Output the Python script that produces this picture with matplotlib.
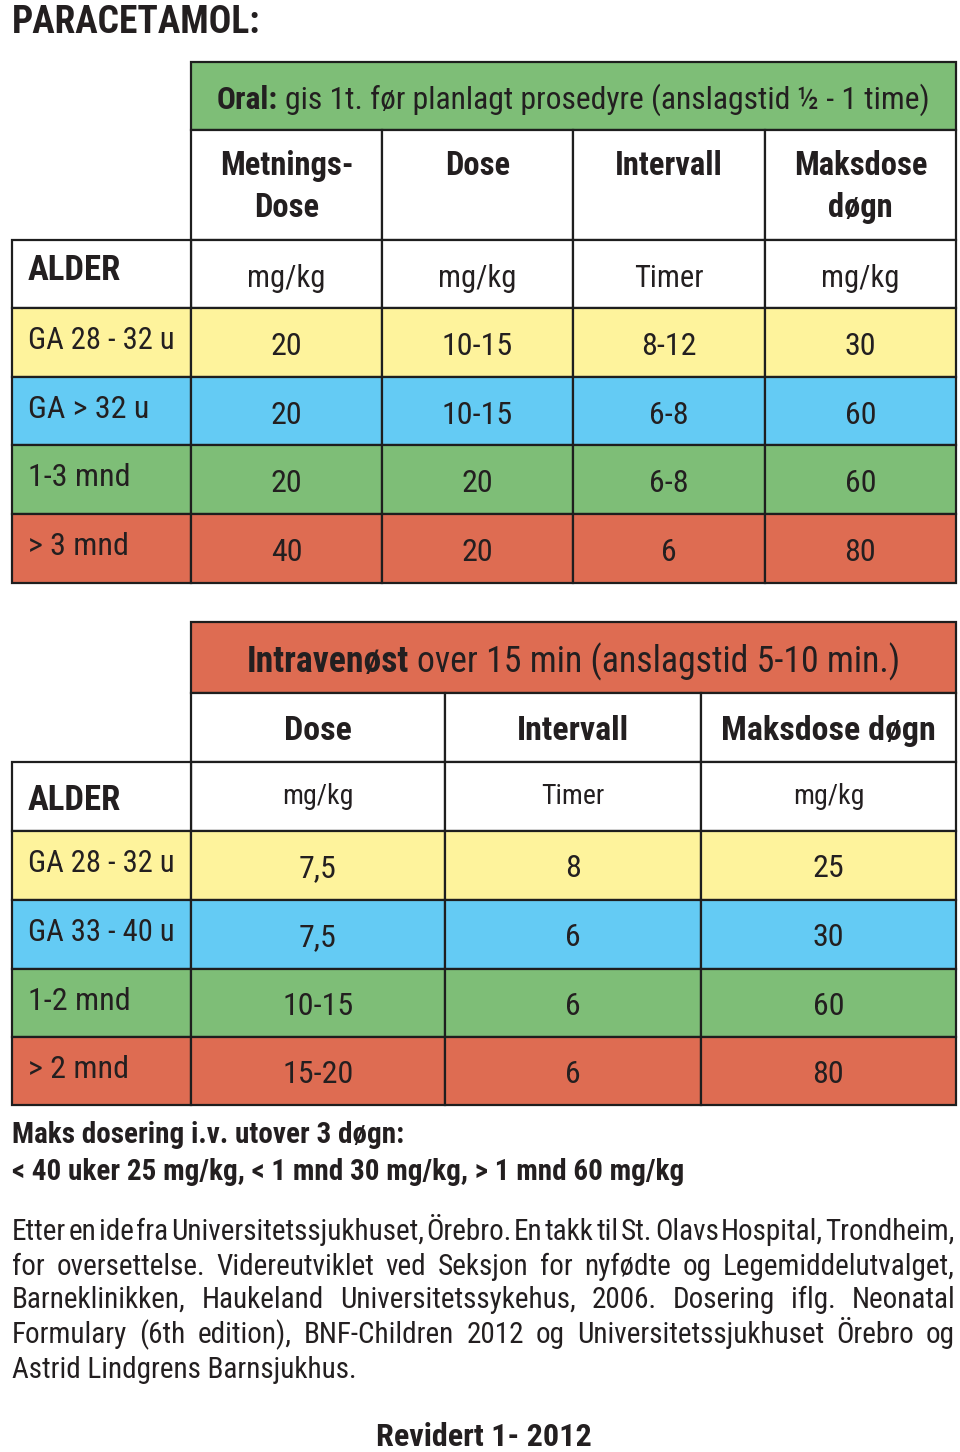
import matplotlib
matplotlib.use("Agg")
import matplotlib.pyplot as plt
from matplotlib.patches import Rectangle
from matplotlib import font_manager as fm

# pick a condensed sans family that has separate regular and bold faces
_cands = ['Liberation Sans Narrow', 'Arial Narrow', 'Nimbus Sans Narrow', 'Archivo Narrow',
          'Roboto Condensed', 'PT Sans Narrow', 'Fira Sans Condensed',
          'IBM Plex Sans Condensed', 'Asap Condensed', 'Encode Sans Condensed',
          'Sofia Sans Condensed', 'Barlow Semi Condensed', 'Open Sans Condensed']
_faces = {}
for f in fm.fontManager.ttflist:
    if 'italic' in f.fname.lower() or f.style != 'normal':
        continue
    w = f.weight if isinstance(f.weight, int) else (700 if 'bold' in str(f.weight) else 400)
    _faces.setdefault(f.name, set()).add(w)
CHOSEN = 'Liberation Sans'
for c in _cands:
    ws = _faces.get(c, set())
    if any(w <= 450 for w in ws) and any(w >= 650 for w in ws):
        CHOSEN = c
        break
plt.rcParams['font.family'] = [CHOSEN, 'Liberation Sans', 'DejaVu Sans']

# ---------------- data ----------------
title = "PARACETAMOL:"
oral_title_bold = "Oral:"
oral_title_rest = "gis 1t. før planlagt prosedyre (anslagstid ½ - 1 time)"
oral_headers = [["Metnings-", "Dose"], ["Dose"], ["Intervall"], ["Maksdose", "døgn"]]
oral_units = ["mg/kg", "mg/kg", "Timer", "mg/kg"]
oral_ages = ["GA 28 - 32 u", "GA > 32 u", "1-3 mnd", "> 3 mnd"]
oral_loading = ["20", "20", "20", "40"]
oral_dose = ["10-15", "10-15", "20", "20"]
oral_interval = ["8-12", "6-8", "6-8", "6"]
oral_max = ["30", "60", "60", "80"]

iv_title_bold = "Intravenøst"
iv_title_rest = "over 15 min (anslagstid 5-10 min.)"
iv_headers = ["Dose", "Intervall", "Maksdose døgn"]
iv_units = ["mg/kg", "Timer", "mg/kg"]
iv_ages = ["GA 28 - 32 u", "GA 33 - 40 u", "1-2 mnd", "> 2 mnd"]
iv_dose = ["7,5", "7,5", "10-15", "15-20"]
iv_interval = ["8", "6", "6", "6"]
iv_max = ["25", "30", "60", "80"]

age_label = "ALDER"
note_lines = ["Maks dosering i.v. utover 3 døgn:",
              "< 40 uker 25 mg/kg, < 1 mnd 30 mg/kg, > 1 mnd 60 mg/kg"]
paragraph_lines = [
    "Etter en ide fra Universitetssjukhuset, Örebro. En takk til St. Olavs Hospital, Trondheim,",
    "for oversettelse. Videreutviklet ved Seksjon for nyfødte og Legemiddelutvalget,",
    "Barneklinikken, Haukeland Universitetssykehus, 2006. Dosering iflg. Neonatal",
    "Formulary (6th edition), BNF-Children 2012 og Universitetssjukhuset Örebro og",
    "Astrid Lindgrens Barnsjukhus.",
]
footer = "Revidert 1- 2012"

# ---------------- style ----------------
YELLOW = "#FEF39C"
BLUE = "#64CBF4"
GREEN = "#7EBE77"
RED = "#DE6C52"
WHITE = "#FFFFFF"
INK = "#231F20"
EDGE = "#1E1E1E"
row_colors = [YELLOW, BLUE, GREEN, RED]

W, H = 960, 1452
fig = plt.figure(figsize=(W / 100, H / 100), dpi=100)
ax = fig.add_axes([0, 0, 1, 1])
ax.set_xlim(0, W)
ax.set_ylim(H, 0)
ax.axis('off')
renderer = fig.canvas.get_renderer()


def width(s, size, weight='normal'):
    t = ax.text(0, 0, s, fontsize=size, fontweight=weight)
    w = t.get_window_extent(renderer=renderer).width
    t.remove()
    return w


def fit(s, size, weight, maxw):
    while width(s, size, weight) > maxw and size > 8:
        size -= 0.25
    return size


def cell(x0, y0, x1, y1, color):
    ax.add_patch(Rectangle((x0, y0), x1 - x0, y1 - y0, facecolor=color,
                           edgecolor=EDGE, linewidth=1.6, zorder=1))


def txt(x, y, s, size, weight='normal', ha='left', va='baseline', maxw=None):
    if maxw is not None:
        size = fit(s, size, weight, maxw)
    return ax.text(x, y, s, fontsize=size, fontweight=weight, ha=ha, va=va,
                   color=INK, zorder=3)


def mixed_centered(cx, y, bold, rest, size, maxw):
    while True:
        wb = width(bold, size, 'bold')
        wr = width(rest, size)
        ws = width("a a", size) - width("aa", size)
        total = wb + ws + wr
        if total <= maxw or size < 8:
            break
        size -= 0.25
    x0 = cx - total / 2
    txt(x0, y, bold, size, 'bold')
    txt(x0 + wb + ws, y, rest, size)


# ---------------- title ----------------
txt(12, 33, title, 27, 'bold', maxw=250)

# ---------------- oral table ----------------
ocols = [191, 382, 573, 765, 956]
left_x0 = 12
o_title = (62, 130)
o_head = (130, 240)
o_unit = (240, 308)
o_rows = [308, 377, 445, 514, 583]

cell(ocols[0], o_title[0], ocols[-1], o_title[1], GREEN)
mixed_centered((ocols[0] + ocols[-1]) / 2, 109, oral_title_bold, oral_title_rest, 26, 716)

for j in range(4):
    cx = (ocols[j] + ocols[j + 1]) / 2
    cw = ocols[j + 1] - ocols[j]
    cell(ocols[j], o_head[0], ocols[j + 1], o_head[1], WHITE)
    for k, line in enumerate(oral_headers[j]):
        txt(cx, 175 + 42 * k, line, 23.5, 'bold', ha='center', maxw=cw - 30)
    cell(ocols[j], o_unit[0], ocols[j + 1], o_unit[1], WHITE)
    txt(cx, 287, oral_units[j], 22, ha='center')

cell(left_x0, o_unit[0], ocols[0], o_unit[1], WHITE)
txt(28, 280, age_label, 25, 'bold')

oral_cols = [oral_loading, oral_dose, oral_interval, oral_max]
for i in range(4):
    top, bot = o_rows[i], o_rows[i + 1]
    cell(left_x0, top, ocols[0], bot, row_colors[i])
    txt(28, top + 41, oral_ages[i], 23, maxw=148)
    for j in range(4):
        cell(ocols[j], top, ocols[j + 1], bot, row_colors[i])
        txt((ocols[j] + ocols[j + 1]) / 2, top + 47, oral_cols[j][i], 23, ha='center')

# ---------------- iv table ----------------
icols = [191, 445, 701, 956]
i_title = (622, 693)
i_head = (693, 762)
i_unit = (762, 831)
i_rows = [831, 900, 969, 1037, 1105]

cell(icols[0], i_title[0], icols[-1], i_title[1], RED)
mixed_centered((icols[0] + icols[-1]) / 2, 672, iv_title_bold, iv_title_rest, 26, 656)

for j in range(3):
    cx = (icols[j] + icols[j + 1]) / 2
    cw = icols[j + 1] - icols[j]
    cell(icols[j], i_head[0], icols[j + 1], i_head[1], WHITE)
    txt(cx, 740, iv_headers[j], 24.5, 'bold', ha='center', maxw=cw - 22)
    cell(icols[j], i_unit[0], icols[j + 1], i_unit[1], WHITE)
    txt(cx, 804, iv_units[j], 20, ha='center')

cell(left_x0, i_unit[0], icols[0], i_unit[1], WHITE)
txt(28, 810, age_label, 25, 'bold')

iv_cols = [iv_dose, iv_interval, iv_max]
for i in range(4):
    top, bot = i_rows[i], i_rows[i + 1]
    cell(left_x0, top, icols[0], bot, row_colors[i])
    txt(28, top + 41, iv_ages[i], 23, maxw=148)
    for j in range(3):
        cell(icols[j], top, icols[j + 1], bot, row_colors[i])
        txt((icols[j] + icols[j + 1]) / 2, top + 46, iv_cols[j][i], 23, ha='center')

# ---------------- notes ----------------
txt(12, 1143, note_lines[0], 21, 'bold', maxw=400)
txt(12, 1180, note_lines[1], 21, 'bold', maxw=680)

# justified paragraph
px0, px1 = 12, 955
baselines = [1240, 1275, 1308, 1343, 1378]
base_size = 21
for li, line in enumerate(paragraph_lines):
    words = line.split(" ")
    y = baselines[li]
    if li == len(paragraph_lines) - 1:
        txt(px0, y, line, base_size)
        continue
    size = base_size
    min_gap = 2.0
    while True:
        ws = [width(w, size) for w in words]
        if sum(ws) + min_gap * (len(words) - 1) <= (px1 - px0) or size < 10:
            break
        size -= 0.25
    gap = ((px1 - px0) - sum(ws)) / (len(words) - 1)
    x = px0
    for w, wd in zip(words, ws):
        txt(x, y, w, size)
        x += wd + gap

txt(484, 1446, footer, 24, 'bold', ha='center', maxw=218)

fig.savefig("out.png", dpi=100)
